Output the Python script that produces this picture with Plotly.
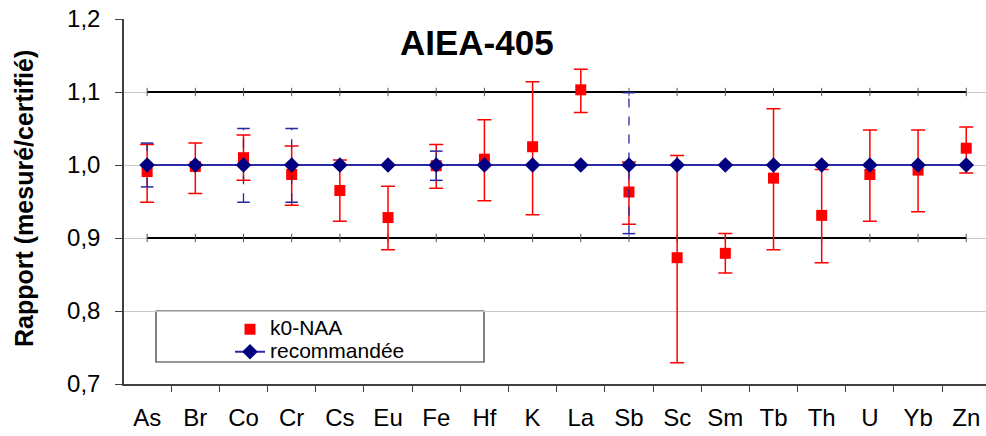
import plotly.graph_objects as go

elements = ["As", "Br", "Co", "Cr", "Cs", "Eu", "Fe", "Hf", "K", "La",
            "Sb", "Sc", "Sm", "Tb", "Th", "U", "Yb", "Zn"]

# k0-NAA measured / certified ratio with error bar ends
k0_ratio = [0.991, 0.998, 1.010, 0.987, 0.965, 0.928, 0.999, 1.008, 1.025, 1.103,
            0.963, 0.873, 0.879, 0.982, 0.931, 0.987, 0.993, 1.023]
k0_upper = [1.028, 1.030, 1.041, 1.026, 1.007, 0.971, 1.028, 1.062, 1.114, 1.131,
            1.004, 1.013, 0.906, 1.077, 0.994, 1.048, 1.048, 1.052]
k0_lower = [0.949, 0.961, 0.979, 0.945, 0.923, 0.884, 0.968, 0.951, 0.932, 1.072,
            0.919, 0.729, 0.852, 0.884, 0.866, 0.923, 0.936, 0.989]

# recommended values (ratio 1) and their uncertainty ranges
rec_ratio = [1.0] * 18
rec_elements = ["As", "Co", "Cr", "Fe", "Sb"]
rec_upper = [1.030, 1.050, 1.050, 1.019, 1.099]
rec_lower = [0.970, 0.949, 0.949, 0.979, 0.906]

# +/- 10 % limits
limit_high = [1.1] * 18
limit_low = [0.9] * 18

FONT = "Liberation Sans, Arial, sans-serif"


def big(txt):
    return '<span style="font-size:21px">' + txt + '</span>'


fig = go.Figure()

for lim in (limit_high, limit_low):
    fig.add_trace(go.Scatter(
        x=elements, y=lim, mode="lines+markers",
        line=dict(color="black", width=2),
        marker=dict(symbol="line-ns", size=6, line=dict(color="#555555", width=1)),
        showlegend=False, hoverinfo="skip"))

fig.add_trace(go.Scatter(
    x=elements, y=k0_ratio, mode="markers", name=big("k0-NAA"),
    marker=dict(symbol="square", size=11, color="#ff0000"),
    error_y=dict(type="data", symmetric=False,
                 array=[u - v for u, v in zip(k0_upper, k0_ratio)],
                 arrayminus=[v - l for v, l in zip(k0_ratio, k0_lower)],
                 color="#ff0000", thickness=1.5, width=7)))

# dashed blue uncertainty bars for recommended values
for el, up, lo in zip(rec_elements, rec_upper, rec_lower):
    fig.add_trace(go.Scatter(
        x=[el, el], y=[lo, up], mode="lines",
        line=dict(color="#2828a0", width=1.3, dash="dash"),
        showlegend=False, hoverinfo="skip"))
    fig.add_trace(go.Scatter(
        x=[el, el], y=[lo, up], mode="markers",
        marker=dict(symbol="line-ew", size=9, line=dict(color="#2828a0", width=1.5)),
        showlegend=False, hoverinfo="skip"))

fig.add_trace(go.Scatter(
    x=elements, y=rec_ratio, mode="lines+markers", name=big("recommandée"),
    line=dict(color="#2a2aa8", width=2),
    marker=dict(symbol="diamond", size=12, color="#000080")))

fig.update_layout(
    width=986, height=436,
    margin=dict(l=124, r=0, t=19, b=52),
    paper_bgcolor="white", plot_bgcolor="white",
    separators=", ",
    font=dict(family=FONT, color="black"),
    xaxis=dict(
        type="category", range=[-0.48, 17.41],
        showline=True, linecolor="#404040", linewidth=1.5,
        ticks="outside", tickson="boundaries", ticklen=6, tickcolor="#404040",
        tickfont=dict(size=24, family=FONT), showgrid=False,
        ticklabelstandoff=11),
    yaxis=dict(
        range=[0.7, 1.2], dtick=0.1, tick0=0.7, tickformat=".1f",
        showline=True, linecolor="#404040", linewidth=1.5,
        ticks="outside", ticklen=7, tickcolor="#404040",
        tickfont=dict(size=24, family=FONT),
        showgrid=True, gridcolor="#c8c8c8", gridwidth=1,
        zeroline=False, ticklabelstandoff=10),
    legend=dict(
        x=(230 - 124) / 862, y=(384 - 313) / 365, xanchor="left", yanchor="top",
        bgcolor="rgba(0,0,0,0)", borderwidth=0,
        font=dict(size=15, family=FONT), tracegroupgap=0, itemwidth=30),
    showlegend=True,
    shapes=[dict(type="rect", xref="paper", yref="paper",
                 x0=(156 - 124) / 862, x1=(484 - 124) / 862,
                 y0=(384 - 362) / 365, y1=(384 - 311) / 365,
                 line=dict(color="#303030", width=1.2), fillcolor="white", layer="below")],
    annotations=[
        dict(text="<b>AIEA-405</b>", xref="paper", yref="paper",
             x=(477 - 124) / 862, y=(384 - 43) / 365, xanchor="center", yanchor="middle",
             showarrow=False, font=dict(size=35, family=FONT)),
        dict(text="<b>Rapport (mesuré/certifié)</b>", xref="paper", yref="paper",
             x=(24 - 124) / 862, y=(384 - 199) / 365, xanchor="center", yanchor="middle",
             textangle=-90, showarrow=False, font=dict(size=25, family=FONT)),
    ],
)

fig.write_html("out.html")
